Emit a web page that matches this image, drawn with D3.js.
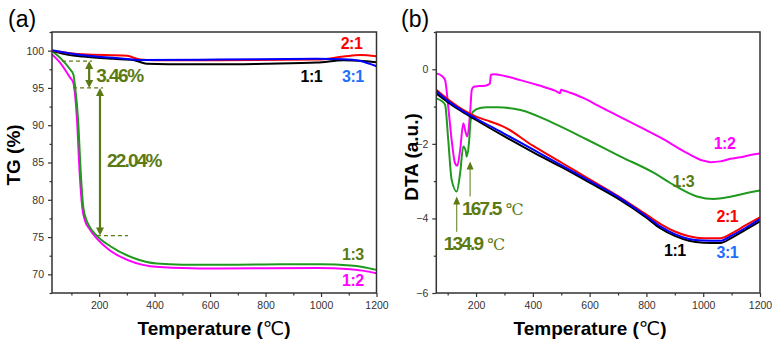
<!DOCTYPE html>
<html><head><meta charset="utf-8">
<script src="https://cdn.jsdelivr.net/npm/d3@7"></script>
<style>
html,body{margin:0;padding:0;background:#fff;}
svg{display:block;font-family:"Liberation Sans",Arial,sans-serif;}
</style></head>
<body><svg id="c" width="777" height="349"></svg>
<script>
// ---------- DATA ----------
const xTicks = [200, 400, 600, 800, 1000, 1200];
const xMinor = [100, 300, 500, 700, 900, 1100];
const tgTicks = [70, 75, 80, 85, 90, 95, 100];
const tgMinor = [67.5, 72.5, 77.5, 82.5, 87.5, 92.5, 97.5, 102.5];
const dtaTicks = [-6, -4, -2, 0];
const dtaMinor = [-5, -3, -1, 1];

// TG (a)
const tg11T = [30, 80, 143, 250, 323, 350, 372, 450, 625, 800, 986, 1081, 1140, 1200];
const tg11V = [100.0, 99.5, 99.2, 98.9, 98.75, 98.45, 98.25, 98.18, 98.16, 98.25, 98.4, 98.7, 98.65, 98.45];
const tg21T = [30, 143, 300, 348, 400, 625, 986, 1081, 1142, 1200];
const tg21V = [100.0, 99.5, 99.3, 98.8, 98.72, 98.7, 98.8, 99.2, 99.4, 99.25];
const tg31T = [30, 143, 280, 348, 625, 986, 1081, 1142, 1200];
const tg31V = [100.05, 99.37, 98.95, 98.75, 98.8, 98.9, 98.85, 98.6, 97.9];
const tg13T = [30, 65, 95, 107, 113, 124, 134, 143, 153, 167, 191, 239, 324, 408, 500, 700, 865, 1000, 1106, 1150, 1200];
const tg13V = [99.95, 98.83, 97.5, 96.8, 95.25, 90.8, 83.4, 78.95, 77.4, 76.3, 75.2, 73.8, 72.2, 71.45, 71.3, 71.3, 71.35, 71.35, 71.2, 71.0, 70.6];
const tg12T = [30, 59, 95, 107, 111, 120, 130, 139, 149, 167, 192, 239, 280, 384, 500, 625, 986, 1106, 1150, 1200];
const tg12V = [99.5, 98.4, 96.4, 95.7, 94.8, 90.8, 83.4, 79.0, 77.2, 76.0, 74.8, 73.2, 72.3, 71.1, 70.85, 70.78, 70.85, 70.7, 70.5, 70.15];

// DTA (b)
const dta11T = [60, 100, 150, 200, 300, 400, 500, 600, 700, 800, 850, 900, 950, 1000, 1060, 1100, 1150, 1200];
const dta11V = [-0.65, -0.88, -1.13, -1.36, -1.8, -2.22, -2.62, -3.04, -3.47, -3.98, -4.27, -4.47, -4.6, -4.65, -4.66, -4.52, -4.3, -4.08];
const dta21T = [60, 100, 150, 200, 250, 300, 400, 500, 600, 700, 800, 850, 900, 950, 1000, 1060, 1100, 1150, 1200];
const dta21V = [-0.55, -0.8, -1.07, -1.27, -1.4, -1.55, -2.05, -2.5, -2.95, -3.4, -3.9, -4.15, -4.35, -4.48, -4.53, -4.53, -4.4, -4.18, -3.97];
const dta31T = [60, 100, 150, 200, 300, 400, 500, 600, 700, 800, 850, 900, 950, 1000, 1060, 1100, 1150, 1200];
const dta31V = [-0.58, -0.84, -1.1, -1.32, -1.73, -2.15, -2.57, -2.99, -3.42, -3.94, -4.22, -4.42, -4.55, -4.59, -4.6, -4.46, -4.25, -4.02];
const dta13T = [60, 80, 91, 102, 114, 132, 144, 155, 164, 167, 175, 181, 190, 214, 239, 274, 356, 474, 592, 709, 827, 884, 978, 1037, 1096, 1166, 1200];
const dta13V = [-0.78, -0.86, -0.95, -1.89, -2.96, -3.28, -2.78, -2.07, -2.2, -2.34, -1.98, -1.36, -1.13, -1.04, -1.02, -1.02, -1.09, -1.45, -1.89, -2.34, -2.78, -3.05, -3.41, -3.48, -3.42, -3.30, -3.25];
const dta12T = [60, 80, 91, 102, 114, 126, 134, 144, 155, 164, 169, 179, 185, 192, 210, 232, 249, 252, 262, 300, 356, 420, 480, 496, 499, 505, 532, 592, 626, 700, 780, 861, 944, 1000, 1026, 1060, 1096, 1130, 1166, 1200];
const dta12V = [-0.11, -0.18, -0.29, -1.0, -1.89, -2.52, -2.59, -2.16, -1.45, -1.71, -1.8, -1.18, -0.55, -0.47, -0.45, -0.44, -0.38, -0.15, -0.13, -0.18, -0.29, -0.43, -0.58, -0.64, -0.55, -0.56, -0.63, -0.82, -0.96, -1.25, -1.56, -1.88, -2.25, -2.45, -2.49, -2.47, -2.4, -2.36, -2.3, -2.26];

// annotations (data units)
const tgDash = [[66, 174, 98.6], [106, 214, 95.0], [192, 304, 75.2]];
const tgArrows = [[164, 98.6, 95.0], [203, 95.0, 75.2]]; // temp, top, bottom
const tgNotes = ["3.46%", "22.04%"];
const dtaArrows = [[179, -2.47, -3.41], [132, -3.41, -4.36]]; // temp, tip, tail
const dtaNotes = ["167.5", "134.9"];

// ---------- DRAW ----------
const svg = d3.select("#c");
const olive = "#5b7a14";
const C = {k:"#000000", r:"#ff0000", b:"#0000ff", g:"#1f9a1f", m:"#ff00ff"};

function zip(T, V){ return T.map((t,i)=>[t, V[i]]); }

function panel(o){
  const g = svg.append("g");
  const x = d3.scaleLinear().domain(o.xd).range([o.l, o.r]);
  const y = d3.scaleLinear().domain(o.yd).range([o.b, o.t]);
  g.append("g").attr("transform",`translate(0,${o.b})`)
    .call(d3.axisBottom(x).tickValues(xTicks).tickSize(4).tickPadding(5).tickFormat(d3.format("d")));
  g.append("g").attr("transform",`translate(0,${o.b})`)
    .call(d3.axisBottom(x).tickValues(xMinor).tickSize(2.5).tickFormat(""));
  g.append("g").attr("transform",`translate(${o.l},0)`)
    .call(d3.axisLeft(y).tickValues(o.yt).tickSize(4).tickPadding(4).tickFormat(d3.format("d")));
  g.append("g").attr("transform",`translate(${o.l},0)`)
    .call(d3.axisLeft(y).tickValues(o.ym).tickSize(2.5).tickFormat(""));
  g.selectAll(".domain").remove();
  g.selectAll(".tick line").attr("stroke","#333").attr("stroke-width",1.2);
  g.selectAll(".tick text").attr("font-size","10.5px").attr("fill","#333")
    .attr("font-family","Liberation Sans, Arial, sans-serif");
  const line = d3.line().x(d=>x(d[0])).y(d=>y(d[1])).curve(d3.curveMonotoneX);
  const clip = "clip"+o.id;
  g.append("clipPath").attr("id",clip).append("rect")
    .attr("x",o.l).attr("y",o.t).attr("width",o.r-o.l).attr("height",o.b-o.t);
  const sg = g.append("g").attr("clip-path",`url(#${clip})`);
  o.series.forEach(s=>{
    sg.append("path").attr("d", line(zip(s.T, s.V))).attr("fill","none")
      .attr("stroke", s.c).attr("stroke-width", 2).attr("stroke-linejoin","round");
  });
  g.append("rect").attr("x",o.l).attr("y",o.t).attr("width",o.r-o.l).attr("height",o.b-o.t)
    .attr("fill","none").attr("stroke","#333").attr("stroke-width",1.5);
  return {g, x, y};
}

// Panel (a)
const A = panel({id:"a", xd:[30,1200], yd:[67.5,102.5], l:52, r:376.5, t:32, b:293,
  yt:tgTicks, ym:tgMinor,
  series:[
    {T:tg12T, V:tg12V, c:C.m},
    {T:tg13T, V:tg13V, c:C.g},
    {T:tg11T, V:tg11V, c:C.k},
    {T:tg21T, V:tg21V, c:C.r},
    {T:tg31T, V:tg31V, c:C.b}
  ]});

tgDash.forEach(d=>{
  A.g.append("line").attr("x1",A.x(d[0])).attr("x2",A.x(d[1])).attr("y1",A.y(d[2])).attr("y2",A.y(d[2]))
    .attr("stroke",olive).attr("stroke-width",1.2).attr("stroke-dasharray","4,3");
});
function head(g, xp, yp, dir, w, h, col){
  g.append("path").attr("d",`M${xp},${yp} L${xp-w/2},${yp - dir*h} L${xp+w/2},${yp - dir*h} Z`).attr("fill",col);
}
tgArrows.forEach(a=>{
  const xp = A.x(a[0]), y1 = A.y(a[1]), y2 = A.y(a[2]);
  A.g.append("line").attr("x1",xp).attr("x2",xp).attr("y1",y1+6).attr("y2",y2-6)
    .attr("stroke",olive).attr("stroke-width",2.2);
  head(A.g, xp, y1, -1, 8, 8, olive);
  head(A.g, xp, y2, 1, 8, 8, olive);
});
A.g.append("text").attr("x",A.x(tgArrows[0][0])+7).attr("y",A.y(95.8)).text(tgNotes[0])
  .attr("font-size","19px").attr("font-weight","bold").attr("fill",olive).attr("letter-spacing","-1.5px");
A.g.append("text").attr("x",A.x(tgArrows[1][0])+7).attr("y",A.y(84.4)).text(tgNotes[1])
  .attr("font-size","19px").attr("font-weight","bold").attr("fill",olive).attr("letter-spacing","-1.8px");

const tgLabels = [["2:1",1110,100.2,C.r],["1:1",965,95.8,C.k],["3:1",1115,95.8,"#1f6fff"],["1:3",1115,71.9,olive],["1:2",1115,68.4,C.m]];
tgLabels.forEach(l=>{
  A.g.append("text").attr("x",A.x(l[1])).attr("y",A.y(l[2])).attr("text-anchor","middle").text(l[0])
    .attr("font-size","16px").attr("font-weight","bold").attr("fill",l[3]).attr("letter-spacing","-0.5px");
});

// Panel (b)
const B = panel({id:"b", xd:[60,1200], yd:[-6,1], l:436.3, r:760, t:32, b:293,
  yt:dtaTicks, ym:dtaMinor,
  series:[
    {T:dta12T, V:dta12V, c:C.m},
    {T:dta13T, V:dta13V, c:C.g},
    {T:dta11T, V:dta11V, c:C.k},
    {T:dta21T, V:dta21V, c:C.r},
    {T:dta31T, V:dta31V, c:C.b}
  ]});

dtaArrows.forEach(a=>{
  const xp = B.x(a[0]), tip = B.y(a[1]), tail = B.y(a[2]);
  B.g.append("line").attr("x1",xp).attr("x2",xp).attr("y1",tip+6).attr("y2",tail)
    .attr("stroke",olive).attr("stroke-width",1);
  head(B.g, xp, tip, -1, 7, 8, olive);
});
[[dtaNotes[0], 462, 215],[dtaNotes[1], 443.7, 250]].forEach(n=>{
  const tx = B.g.append("text").attr("x", n[1]).attr("y", n[2]).attr("fill",olive);
  tx.append("tspan").text(n[0]).attr("font-size","19px").attr("font-weight","bold").attr("letter-spacing","-1.8px");
  tx.append("tspan").text(" ℃").attr("font-size","16px").attr("font-family","DejaVu Serif, serif");
});

const dtaLabels = [["1:2",1075,-2.15,C.m],["1:3",930,-3.15,olive],["2:1",1085,-4.1,C.r],["1:1",900,-5.02,C.k],["3:1",1085,-5.06,"#1f6fff"]];
dtaLabels.forEach(l=>{
  B.g.append("text").attr("x",B.x(l[1])).attr("y",B.y(l[2])).attr("text-anchor","middle").text(l[0])
    .attr("font-size","16px").attr("font-weight","bold").attr("fill",l[3]).attr("letter-spacing","-0.5px");
});

function xTitle(cx){
  const t = svg.append("text").attr("x",cx).attr("y",335).attr("text-anchor","middle")
    .attr("font-size","19px").attr("font-weight","bold").attr("fill","#000");
  t.append("tspan").text("Temperature (");
  t.append("tspan").text("℃").attr("font-weight","normal").attr("font-family","DejaVu Sans, sans-serif");
  t.append("tspan").text(")");
}
xTitle(214); xTitle(590);
svg.append("text").attr("transform","translate(20,155) rotate(-90)").attr("text-anchor","middle")
  .attr("font-size","19px").attr("font-weight","bold").text("TG (%)");
svg.append("text").attr("transform","translate(418,157) rotate(-90)").attr("text-anchor","middle")
  .attr("font-size","19px").attr("font-weight","bold").text("DTA (a.u.)");
svg.append("text").attr("x",8).attr("y",27).attr("font-size","23px").text("(a)");
svg.append("text").attr("x",401).attr("y",27).attr("font-size","23px").text("(b)");
</script></body></html>
